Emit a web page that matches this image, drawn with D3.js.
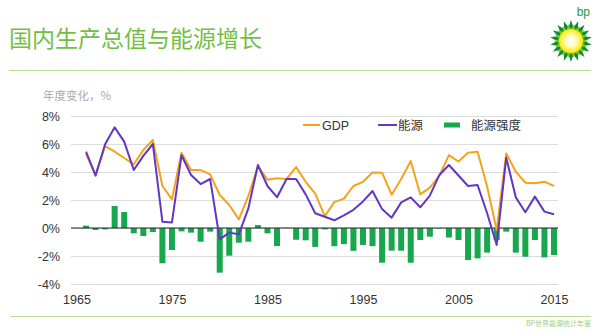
<!DOCTYPE html>
<html><head><meta charset="utf-8">
<script src="https://cdn.jsdelivr.net/npm/d3@7/dist/d3.min.js"></script>
<style>body{margin:0;background:#fff} svg{display:block}</style>
</head><body><svg id="c" width="600" height="333"></svg>
<script>
const years = [1966,1967,1968,1969,1970,1971,1972,1973,1974,1975,
  1976,1977,1978,1979,1980,1981,1982,1983,1984,1985,
  1986,1987,1988,1989,1990,1991,1992,1993,1994,1995,
  1996,1997,1998,1999,2000,2001,2002,2003,2004,2005,
  2006,2007,2008,2009,2010,2011,2012,2013,2014,2015];
const gdp = [5.3,3.8,5.85,5.45,5.0,4.55,5.57,6.29,3.0,2.05,
  5.38,4.14,4.14,3.83,2.36,1.64,0.62,2.3,4.4,3.45,
  3.55,3.5,4.35,3.3,2.45,0.85,1.85,2.1,3.0,3.3,
  3.97,3.95,2.38,3.5,4.79,2.4,2.88,3.74,5.2,4.75,
  5.38,5.45,2.95,-0.14,5.33,4.02,3.24,3.2,3.31,3.0];
const energy = [5.45,3.74,5.98,7.19,6.17,4.14,5.15,6.0,0.45,0.4,
  5.2,3.79,3.14,3.5,-0.81,-0.33,-0.45,1.4,4.5,3.0,
  2.2,3.5,3.5,2.4,1.05,0.8,0.55,0.9,1.3,1.9,
  2.64,1.35,0.74,1.83,2.19,1.48,2.31,3.79,4.5,3.75,
  3.0,3.07,1.05,-1.21,5.02,2.19,1.12,2.24,1.17,0.98];
const intensity = [0.17,-0.14,-0.1,1.57,1.14,-0.38,-0.57,-0.29,-2.52,-1.57,
  -0.24,-0.33,-0.98,-0.26,-3.19,-1.98,-1.05,-0.98,0.21,-0.38,
  -1.29,0.02,-0.84,-0.88,-1.35,-0.1,-1.3,-1.15,-1.63,-1.21,
  -1.3,-2.48,-1.62,-1.62,-2.48,-0.86,-0.62,-0.03,-0.68,-0.86,
  -2.29,-2.17,-1.76,-0.86,-0.26,-1.76,-2.05,-0.86,-2.1,-1.93];
const yTicks = [-4,-2,0,2,4,6,8];
const xTicks = [1965,1975,1985,1995,2005,2015];
const seriesNames = ["GDP","能源","能源强度"];
const colors = {gdp:"#f5a31a", energy:"#6237c2", intensity:"#17a84d"};

const svg = d3.select("#c");
const font = "'Liberation Sans', Arial, 'Noto Sans CJK SC', sans-serif";
const cjk = "'Noto Sans CJK SC', sans-serif";

// header
svg.append("text").attr("x",9).attr("y",37).attr("dominant-baseline","central")
  .attr("font-family",cjk).attr("font-size",23).attr("fill","#72bf44")
  .text("国内生产总值与能源增长");
svg.append("line").attr("x1",9).attr("x2",591).attr("y1",70.5).attr("y2",70.5)
  .attr("stroke","#b9dc96").attr("stroke-width",1);
svg.append("line").attr("x1",10).attr("x2",591).attr("y1",316.5).attr("y2",316.5)
  .attr("stroke","#b9dc96").attr("stroke-width",1);
svg.append("text").attr("x",591).attr("y",326).attr("text-anchor","end")
  .attr("font-family",cjk).attr("font-size",7).attr("fill","#9fd08a")
  .text("BP世界能源统计年鉴");

// bp logo
const logo = svg.append("g").attr("transform","translate(571,41)");
svg.append("text").attr("x",590).attr("y",16).attr("text-anchor","end")
  .attr("font-family",font).attr("font-size",12).attr("fill","#2a9a3a").text("bp");
const star = (n, r1, r2, rot) => d3.range(n*2).map(i => {
  const a = rot + i*Math.PI/n; const r = i%2 ? r2 : r1;
  return [Math.sin(a)*r, -Math.cos(a)*r];
});
logo.append("path").attr("d", d3.line().curve(d3.curveLinearClosed)(star(18,21,14,0))).attr("fill","#0a8f2f");
logo.append("path").attr("d", d3.line().curve(d3.curveLinearClosed)(star(18,17,12,Math.PI/18))).attr("fill","#7cc22a");
const grad = svg.append("defs").append("radialGradient").attr("id","sun");
grad.append("stop").attr("offset","0%").attr("stop-color","#ffffff");
grad.append("stop").attr("offset","45%").attr("stop-color","#fffbc0");
grad.append("stop").attr("offset","100%").attr("stop-color","#ffe800");
logo.append("circle").attr("r",12).attr("fill","url(#sun)");

// scales
const x = d3.scaleLinear().domain([1965,2015]).range([76.45,554]);
const y = d3.scaleLinear().domain([-4,8]).range([284,116]);
const left = 71, right = 558;

// y axis with grid
const yAxis = svg.append("g").attr("transform",`translate(${left},0)`)
  .call(d3.axisLeft(y).tickValues(yTicks).tickFormat(d => d + "%")
    .tickSize(-(right-left)).tickPadding(11));
yAxis.select(".domain").remove();
yAxis.selectAll(".tick line").attr("stroke","#dcdcdc");
yAxis.selectAll("text").attr("font-family",font).attr("font-size",12.5).attr("fill","#333");

svg.append("text").attr("x",43).attr("y",100).attr("font-family",cjk)
  .attr("font-size",11.5).attr("fill","#aaa").text("年度变化，%");

// x axis
const xAxis = svg.append("g").attr("transform",`translate(0,284)`)
  .call(d3.axisBottom(x).tickValues(xTicks).tickFormat(d3.format("d")).tickSize(0).tickPadding(11));
xAxis.select(".domain").remove();
xAxis.selectAll("text").attr("font-family",font).attr("font-size",12.5).attr("fill","#333");

// bars
const bw = 6;
svg.append("g").selectAll("rect").data(years).join("rect")
  .attr("x", (d) => x(d) - bw/2)
  .attr("width", bw)
  .attr("y", (d,i) => Math.min(y(intensity[i]), y(0)))
  .attr("height", (d,i) => Math.abs(y(intensity[i]) - y(0)))
  .attr("fill", colors.intensity);

// zero line
svg.append("line").attr("x1",left).attr("x2",right).attr("y1",y(0)).attr("y2",y(0))
  .attr("stroke","#222").attr("stroke-width",1);

// lines
const line = vals => d3.line().x((d,i)=>x(years[i])).y(d=>y(d))(vals);
svg.append("path").attr("d", line(gdp)).attr("fill","none")
  .attr("stroke",colors.gdp).attr("stroke-width",2).attr("stroke-linejoin","round");
svg.append("path").attr("d", line(energy)).attr("fill","none")
  .attr("stroke",colors.energy).attr("stroke-width",2).attr("stroke-linejoin","round");

// legend
const lg = svg.append("g").attr("font-size",12.5).attr("fill","#333");
lg.append("line").attr("x1",303).attr("x2",320).attr("y1",125).attr("y2",125)
  .attr("stroke",colors.gdp).attr("stroke-width",2);
lg.append("text").attr("x",322).attr("y",129.5).attr("font-family",font).text(seriesNames[0]);
lg.append("line").attr("x1",378).attr("x2",397).attr("y1",125).attr("y2",125)
  .attr("stroke",colors.energy).attr("stroke-width",2);
lg.append("text").attr("x",398).attr("y",129.5).attr("font-family",cjk).text(seriesNames[1]);
lg.append("rect").attr("x",444).attr("y",122.5).attr("width",16).attr("height",5)
  .attr("fill",colors.intensity);
lg.append("text").attr("x",471).attr("y",129.5).attr("font-family",cjk).text(seriesNames[2]);
</script></body></html>
